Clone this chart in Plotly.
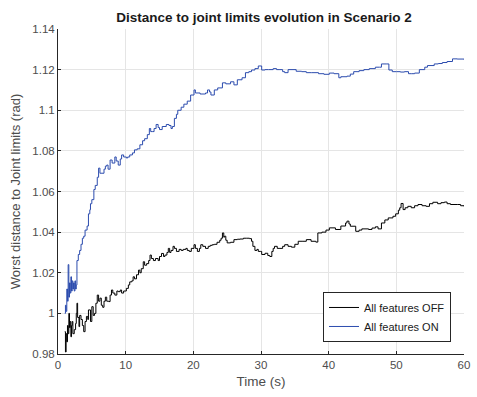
import plotly.graph_objects as go

# Worst distance to joint limits (rad) over time (s), Scenario 2
t_off = [1.0, 1.1, 1.2, 1.3, 1.4, 1.5, 1.6, 1.7, 1.8, 1.9, 2.0, 2.1, 2.2, 2.4, 2.6, 2.7, 2.8, 2.9,
         3.1, 3.2, 3.4, 3.6, 3.8, 4.0, 4.2, 4.4, 4.5, 4.8, 5.0, 5.2, 5.4, 5.6, 5.8, 6.0, 6.2, 6.4,
         6.6, 6.8, 7.0, 7.2, 7.5, 7.7, 7.9, 8.1, 8.4, 8.7, 8.9, 9.2, 9.4, 9.7, 10.1, 10.4, 10.6,
         10.9, 11.1, 11.3, 11.6, 11.9, 12.1, 12.3, 12.6, 12.8, 13.1, 13.4, 13.6, 13.8, 14.1, 14.4,
         14.8, 15.0, 15.3, 15.6, 15.8, 16.1, 16.3, 16.5, 16.7, 17.0, 17.2, 17.5, 17.9, 18.2, 18.5,
         18.9, 19.1, 19.4, 19.7, 20.1, 20.3, 20.6, 20.9, 21.1, 21.4, 21.8, 22.2, 22.5, 22.8, 23.1,
         23.5, 23.9, 24.1, 24.3, 24.5, 24.6, 24.8, 25.0, 25.5, 26.0, 26.5, 26.9, 27.4, 27.9, 28.3,
         28.6, 28.8, 29.1, 29.4, 29.6, 29.9, 30.1, 30.6, 31.0, 31.3, 31.6, 31.8, 32.0, 32.4, 32.8,
         33.2, 33.5, 34.0, 34.5, 35.0, 35.5, 36.2, 36.7, 37.4, 38.1, 38.4, 39.0, 39.6, 40.1, 41.0,
         41.8, 42.5, 42.7, 43.0, 43.2, 44.0, 44.5, 44.9, 45.9, 46.4, 46.9, 47.3, 47.8, 48.3, 48.8,
         49.5, 49.9, 50.3, 50.5, 50.7, 51.0, 51.3, 51.7, 52.2, 52.7, 53.2, 53.8, 54.4, 54.9, 55.4,
         56.1, 56.6, 57.1, 57.5, 58.0, 59.0, 59.5, 60.0]
d_off = [0.991, 0.981, 0.990, 0.986, 0.994, 0.990, 1.000, 0.993, 0.996, 0.9885, 0.994, 0.996, 0.990,
         0.992, 0.995, 1.000, 1.005, 0.998, 0.9935, 0.999, 0.997, 0.994, 0.991, 0.996, 0.9985, 0.997,
         1.0017, 0.996, 1.0033, 0.999, 1.000, 1.005, 1.009, 1.006, 1.0075, 1.004, 1.003, 1.006, 1.008,
         1.006, 1.0058, 1.009, 1.0115, 1.010, 1.009, 1.011, 1.0107, 1.0115, 1.010, 1.011, 1.0123,
         1.014, 1.0155, 1.016, 1.018, 1.017, 1.019, 1.0213, 1.020, 1.022, 1.0254, 1.0237, 1.0245,
         1.026, 1.0287, 1.027, 1.026, 1.027, 1.026, 1.028, 1.0295, 1.028, 1.0287, 1.030, 1.032,
         1.030, 1.031, 1.033, 1.032, 1.0305, 1.0315, 1.031, 1.0315, 1.032, 1.031, 1.0305, 1.032,
         1.0338, 1.032, 1.0305, 1.032, 1.0338, 1.033, 1.032, 1.033, 1.0335, 1.0338, 1.034, 1.035,
         1.036, 1.037, 1.0396, 1.0375, 1.038, 1.036, 1.0347, 1.035, 1.0363, 1.0365, 1.0366, 1.037,
         1.037, 1.0368, 1.0355, 1.033, 1.031, 1.0315, 1.0305, 1.0305, 1.029, 1.0296, 1.0285, 1.028,
         1.0305, 1.032, 1.033, 1.032, 1.032, 1.033, 1.0338, 1.033, 1.0326, 1.034, 1.0355, 1.0355,
         1.0363, 1.0355, 1.0351, 1.0396, 1.040, 1.041, 1.0421, 1.0413, 1.043, 1.0445, 1.0454, 1.044,
         1.0429, 1.0404, 1.041, 1.0416, 1.0413, 1.042, 1.0426, 1.0416, 1.0445, 1.046, 1.047, 1.0478,
         1.049, 1.0508, 1.052, 1.0541, 1.0511, 1.052, 1.0527, 1.052, 1.053, 1.0536, 1.053, 1.0527,
         1.054, 1.0547, 1.054, 1.0545, 1.0548, 1.054, 1.0536, 1.0536, 1.053, 1.0527]

t_on = [1.0, 1.1, 1.2, 1.3, 1.4, 1.5, 1.6, 1.7, 1.8, 1.9, 2.0, 2.1, 2.2, 2.3, 2.4, 2.5, 2.6, 2.7,
        2.8, 3.0, 3.2, 3.4, 3.6, 3.8, 4.0, 4.3, 4.5, 4.7, 4.8, 5.0, 5.3, 5.5, 5.8, 6.0, 6.2, 6.5,
        6.8, 7.0, 7.2, 7.4, 7.7, 8.0, 8.4, 8.6, 8.9, 9.2, 9.4, 9.7, 10.1, 10.3, 10.6, 11.0, 11.3,
        11.7, 12.1, 12.5, 12.8, 13.2, 13.5, 13.7, 14.0, 14.2, 14.5, 14.8, 15.0, 15.4, 16.0, 16.4,
        16.7, 16.9, 17.2, 17.5, 17.7, 18.2, 18.6, 19.1, 19.6, 20.1, 20.3, 21.0, 21.8, 22.1, 22.4,
        22.6, 23.1, 23.6, 24.3, 24.8, 25.5, 26.0, 26.5, 27.2, 27.7, 28.2, 28.6, 29.1, 29.6, 30.1,
        30.6, 31.1, 31.8, 32.3, 32.8, 33.2, 33.5, 34.0, 35.2, 36.0, 36.7, 37.5, 38.5, 39.3, 40.1,
        40.8, 41.5, 41.8, 42.7, 43.2, 43.7, 44.5, 45.2, 46.0, 46.9, 47.5, 47.8, 48.6, 48.9, 49.4,
        50.0, 50.6, 51.2, 51.8, 52.2, 52.7, 53.4, 54.2, 54.6, 55.6, 56.2, 56.8, 57.5, 58.3, 59.0,
        60.0]
d_on = [1.000, 1.004, 1.001, 1.012, 1.006, 1.024, 1.008, 1.015, 1.010, 1.018, 1.011, 1.016, 1.012,
        1.015, 1.011, 1.016, 1.012, 1.014, 1.026, 1.029, 1.031, 1.034, 1.037, 1.038, 1.041, 1.043,
        1.049, 1.051, 1.054, 1.056, 1.061, 1.063, 1.067, 1.0715, 1.069, 1.069, 1.071, 1.0725, 1.073,
        1.071, 1.0755, 1.074, 1.077, 1.075, 1.073, 1.076, 1.078, 1.077, 1.0765, 1.077, 1.078, 1.079,
        1.0805, 1.081, 1.083, 1.085, 1.086, 1.088, 1.091, 1.0895, 1.0895, 1.091, 1.093, 1.0915,
        1.0905, 1.092, 1.093, 1.0925, 1.091, 1.092, 1.096, 1.098, 1.100, 1.1015, 1.103, 1.1045,
        1.1075, 1.110, 1.1085, 1.108, 1.1085, 1.110, 1.109, 1.1075, 1.110, 1.111, 1.1135, 1.113,
        1.114, 1.1125, 1.115, 1.116, 1.1185, 1.119, 1.1198, 1.1205, 1.1218, 1.1198, 1.120, 1.120,
        1.1205, 1.120, 1.120, 1.119, 1.1185, 1.120, 1.1192, 1.119, 1.1185, 1.1185, 1.118, 1.1177,
        1.1183, 1.118, 1.116, 1.1165, 1.1168, 1.1178, 1.119, 1.1195, 1.120, 1.1205, 1.1212, 1.1212,
        1.1228, 1.1228, 1.1198, 1.119, 1.119, 1.1188, 1.119, 1.118, 1.118, 1.1183, 1.120, 1.1212,
        1.122, 1.1228, 1.123, 1.1235, 1.124, 1.1253, 1.1252, 1.125]

x_ticks = [0, 10, 20, 30, 40, 50, 60]
y_ticks = [0.98, 1.0, 1.02, 1.04, 1.06, 1.08, 1.1, 1.12, 1.14]
y_tick_labels = ["0.98", "1", "1.02", "1.04", "1.06", "1.08", "1.1", "1.12", "1.14"]

FONT = "Liberation Sans, Arial, sans-serif"
AXIS_COLOR = "#262626"

fig = go.Figure()
# sampled signals drawn as steps (value held until the next sample)
fig.add_trace(go.Scatter(x=t_off, y=d_off, mode="lines", name="All features OFF",
                         line=dict(color="#000000", width=1, shape="hv")))
fig.add_trace(go.Scatter(x=t_on, y=d_on, mode="lines", name="All features ON",
                         line=dict(color="#2c4cae", width=1, shape="hv")))

axis_common = dict(
    showline=True, linecolor=AXIS_COLOR, linewidth=1, mirror=False,
    ticks="inside", ticklen=3, tickcolor=AXIS_COLOR, tickwidth=1,
    showgrid=True, gridcolor="#e5e5e5", gridwidth=1, zeroline=False,
    tickfont=dict(family=FONT, size=11.5, color="#4d4d4d"),
)

fig.update_xaxes(
    range=[0, 60], tickvals=x_ticks,
    title=dict(text="Time (s)", font=dict(family=FONT, size=13.5, color="#4d4d4d"), standoff=6),
    **axis_common,
)
fig.update_yaxes(
    range=[0.98, 1.14], tickvals=y_ticks, ticktext=y_tick_labels,
    title=dict(text="Worst distance to Joint limits (rad)",
               font=dict(family=FONT, size=13, color="#4d4d4d"), standoff=8),
    **axis_common,
)

fig.update_layout(
    width=477, height=397,
    margin=dict(l=58, r=7, t=29, b=43),
    paper_bgcolor="white", plot_bgcolor="white",
    title=dict(text="<b>Distance to joint limits evolution in Scenario 2</b>",
               x=(58 + 470) / 2 / 477, xanchor="center", y=1 - 17 / 397, yanchor="middle",
               font=dict(family=FONT, size=13.5, color="#1a1a1a")),
    legend=dict(
        x=0.968, xanchor="right", y=0.037, yanchor="bottom",
        bgcolor="white", bordercolor=AXIS_COLOR, borderwidth=1,
        font=dict(family=FONT, size=11, color="#1a1a1a"),
        tracegroupgap=0, itemwidth=30,
    ),
    showlegend=True,
)

fig.write_html("out.html")
